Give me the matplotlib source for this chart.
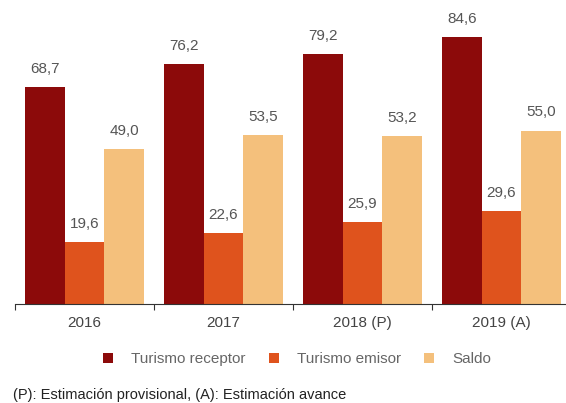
import matplotlib.pyplot as plt
import numpy as np

plt.rcParams['font.family'] = ['Liberation Sans', 'DejaVu Sans']

years = ['2016', '2017', '2018 (P)', '2019 (A)']
receptor = [68.7, 76.2, 79.2, 84.6]
emisor = [19.6, 22.6, 25.9, 29.6]
saldo = [49.0, 53.5, 53.2, 55.0]

series = [('Turismo receptor', receptor, '#8c0a0a'),
          ('Turismo emisor', emisor, '#df531d'),
          ('Saldo', saldo, '#f4c07c')]

fig = plt.figure(figsize=(5.66, 4.03), dpi=100)
# right end of the axis runs past the image edge (cropped like the original)
ax = fig.add_axes([15 / 566, 0.2457, 556 / 566, 0.7543])

x = np.arange(len(years))
w = 0.285
for i, (name, vals, col) in enumerate(series):
    pos = x + (i - 1) * w
    ax.bar(pos, vals, w, color=col, label=name)
    for p, v in zip(pos, vals):
        ax.annotate(f'{v:.1f}'.replace('.', ','), (p, v), xytext=(0, 13),
                    textcoords='offset points', ha='center', va='center',
                    fontsize=11, color='#555555')

ax.set_xlim(-0.5, 3.5)
ax.set_ylim(0, 96.4)
ax.set_yticks([])
ax.set_xticks(np.arange(-0.5, 4, 1))
ax.set_xticklabels([])
ax.set_xticks(x, minor=True)
ax.set_xticklabels(years, minor=True, fontsize=11, color='#444444')
ax.tick_params(axis='x', which='major', length=4, color='#333333')
ax.tick_params(axis='x', which='minor', length=0, pad=9)
for s in ['top', 'right', 'left']:
    ax.spines[s].set_visible(False)
ax.spines['bottom'].set_color('#333333')

handles, labels = ax.get_legend_handles_labels()
fig.legend(handles, labels, loc='center', bbox_to_anchor=(0.525, 0.108), ncol=3,
           frameon=False, fontsize=11, handlelength=0.65, handleheight=0.65,
           handletextpad=1.2, columnspacing=1.5, labelcolor='#666666')

fig.text(13 / 566, 0.02, '(P): Estimación provisional, (A): Estimación avance',
         fontsize=10.5, color='#222222', ha='left', va='center')

fig.savefig('out.png', dpi=100)
